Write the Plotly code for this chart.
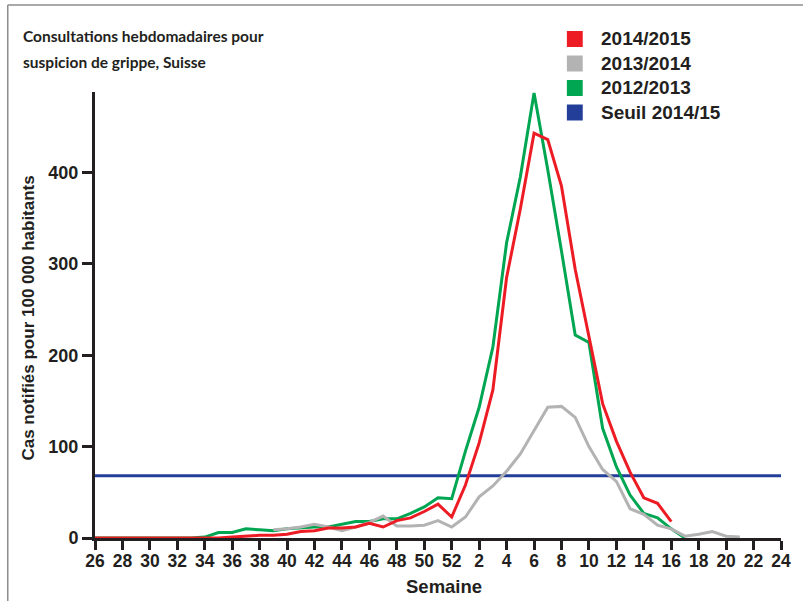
import plotly.graph_objects as go

# ---- data -----------------------------------------------------------------
weeks = [26, 27, 28, 29, 30, 31, 32, 33, 34, 35, 36, 37, 38, 39, 40, 41, 42,
         43, 44, 45, 46, 47, 48, 49, 50, 51, 52,
         1, 2, 3, 4, 5, 6, 7, 8, 9, 10, 11, 12, 13, 14, 15, 16, 17, 18, 19,
         20, 21, 22, 23, 24]
tick_weeks = [26, 28, 30, 32, 34, 36, 38, 40, 42, 44, 46, 48, 50, 52,
              2, 4, 6, 8, 10, 12, 14, 16, 18, 20, 22, 24]

# 2014/2015 : weeks 26 .. 16
red_start = 26
red_2014_2015 = [0, 0, 0, 0, 0, 0, 0, 0, 0, 0,
                 1, 2, 3, 3, 4, 7, 8, 11, 11, 12, 16, 12, 19, 22, 29, 37, 23,
                 58, 104, 162, 285, 360, 443, 436, 385, 294, 222, 147, 106,
                 72, 44, 38, 18]

# 2013/2014 : weeks 39 .. 21
grey_start = 39
grey_2013_2014 = [9, 10, 12, 15, 12, 8, 12, 17, 24, 13, 13, 14, 19, 12,
                  23, 45, 57, 73, 92, 118, 143, 144, 132, 100, 75, 62, 32,
                  26, 14, 10, 2, 4, 7, 2, 1]

# 2012/2013 : weeks 26 .. 17
green_start = 26
green_2012_2013 = [0, 0, 0, 0, 0, 0, 0, 0,
                   1, 6, 6, 10, 9, 8, 10, 11, 12, 12, 15, 18, 18, 21, 21, 27,
                   34, 44, 43,
                   95, 143, 209, 323, 395, 487, 403, 314, 222, 214, 120, 78,
                   47, 27, 22, 10, 0]

threshold_2014_15 = 68

series_names = ["2014/2015", "2013/2014", "2012/2013", "Seuil 2014/15"]
series_colors = ["#ED1C24", "#B3B3B3", "#00A651", "#233E99"]

title_lines = ["Consultations hebdomadaires pour", "suspicion de grippe, Suisse"]
y_title = "Cas notifiés pour 100 000 habitants"
x_title = "Semaine"

y_ticks = [0, 100, 200, 300, 400]
y_max = 488

# ---- helpers --------------------------------------------------------------
def week_labels(start, n):
    i0 = weeks.index(start)
    return [str(w) for w in weeks[i0:i0 + n]]

DARK = "#231F20"
FONT = "Liberation Sans, Arial, sans-serif"
TITLE_FONT = "Lato, Liberation Sans, Arial, sans-serif"

fig = go.Figure()

# threshold
fig.add_trace(go.Scatter(
    x=[str(weeks[0]), str(weeks[-1])], y=[threshold_2014_15] * 2,
    mode="lines", line=dict(color=series_colors[3], width=3),
    name=series_names[3], hoverinfo="skip"))
# 2012/2013
fig.add_trace(go.Scatter(
    x=week_labels(green_start, len(green_2012_2013)), y=green_2012_2013,
    mode="lines", line=dict(color=series_colors[2], width=3),
    name=series_names[2]))
# 2013/2014
fig.add_trace(go.Scatter(
    x=week_labels(grey_start, len(grey_2013_2014)), y=grey_2013_2014,
    mode="lines", line=dict(color=series_colors[1], width=3),
    name=series_names[1]))
# 2014/2015
fig.add_trace(go.Scatter(
    x=week_labels(red_start, len(red_2014_2015)), y=red_2014_2015,
    mode="lines", line=dict(color=series_colors[0], width=3),
    name=series_names[0]))

L, R, T, B = 95, 16, 92, 63
W, H = 803, 601
pw, ph = W - L - R, H - T - B


def px_x(px):
    return (px - L) / pw


def px_y(py):
    return (H - B - py) / ph


annotations = []
shapes = []

# title (two lines)
for k, line in enumerate(title_lines):
    annotations.append(dict(
        text=line, xref="paper", yref="paper", x=px_x(20),
        y=px_y(36 + 26 * k), xanchor="left", yanchor="middle",
        showarrow=False,
        font=dict(family=TITLE_FONT, size=15.5, color=DARK, weight="bold")))

# axis titles
annotations.append(dict(
    text=y_title, xref="paper", yref="paper", x=px_x(27), y=px_y(318),
    textangle=-90, xanchor="center", yanchor="middle", showarrow=False,
    font=dict(family=FONT, size=17, color=DARK, weight="bold")))
annotations.append(dict(
    text=x_title, xref="paper", yref="paper", x=px_x(447), y=px_y(586),
    xanchor="center", yanchor="middle", showarrow=False,
    font=dict(family=FONT, size=18.5, color=DARK, weight="bold")))

# legend (square swatches + labels)
for k, (name, col) in enumerate(zip(series_names, series_colors)):
    cy = 39 + 24.5 * k
    shapes.append(dict(type="rect", xref="paper", yref="paper",
                       x0=px_x(571), x1=px_x(587),
                       y0=px_y(cy + 8), y1=px_y(cy - 8),
                       fillcolor=col, line=dict(width=0)))
    annotations.append(dict(
        text=name, xref="paper", yref="paper", x=px_x(603), y=px_y(cy),
        xanchor="left", yanchor="middle", showarrow=False,
        font=dict(family=FONT, size=19, color=DARK, weight="bold")))

# frame lines of the original figure box
shapes.append(dict(type="line", xref="paper", yref="paper",
                   x0=px_x(7), x1=px_x(7), y0=px_y(5), y1=px_y(610),
                   line=dict(color="#8C8C8C", width=1.5)))
shapes.append(dict(type="line", xref="paper", yref="paper",
                   x0=px_x(7), x1=px_x(810), y0=px_y(5), y1=px_y(5),
                   line=dict(color="#8C8C8C", width=1.5)))

fig.update_layout(
    width=W, height=H,
    margin=dict(l=L, r=R, t=T, b=B, pad=0),
    paper_bgcolor="white", plot_bgcolor="white",
    font=dict(family=FONT, color=DARK),
    showlegend=False,
    xaxis=dict(
        type="category", categoryorder="array",
        categoryarray=[str(w) for w in weeks],
        range=[0, len(weeks) - 1],
        tickmode="array", tickvals=[str(w) for w in tick_weeks],
        ticktext=[str(w) for w in tick_weeks],
        showline=True, linecolor=DARK, linewidth=3,
        ticks="outside", ticklen=9, tickwidth=3, tickcolor=DARK,
        ticklabelstandoff=-4,
        tickfont=dict(family=FONT, size=17.5, color=DARK, weight="bold"),
        showgrid=False, zeroline=False, fixedrange=True),
    yaxis=dict(
        range=[0, y_max], tickmode="array", tickvals=y_ticks,
        showline=True, linecolor=DARK, linewidth=3,
        ticks="outside", ticklen=10, tickwidth=3, tickcolor=DARK,
        tickfont=dict(family=FONT, size=18, color=DARK, weight="bold"),
        showgrid=False, zeroline=False, fixedrange=True),
    annotations=annotations,
    shapes=shapes,
)

fig.write_html("out.html",
               config={"displayModeBar": False},
               post_script="document.body.style.margin='0';")
